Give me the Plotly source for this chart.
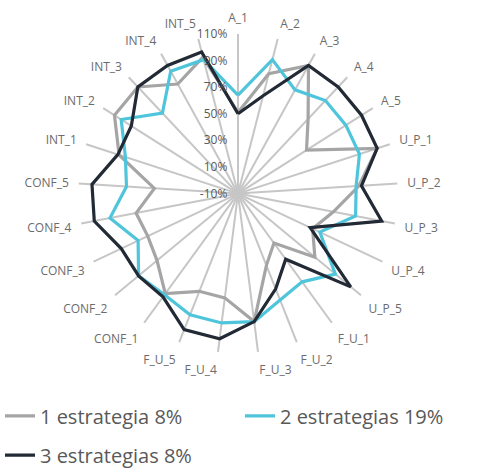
import plotly.graph_objects as go

categories = ["A_1", "A_2", "A_3", "A_4", "A_5",
              "U_P_1", "U_P_2", "U_P_3", "U_P_4", "U_P_5",
              "F_U_1", "F_U_2", "F_U_3", "F_U_4", "F_U_5",
              "CONF_1", "CONF_2", "CONF_3", "CONF_4", "CONF_5",
              "INT_1", "INT_2", "INT_3", "INT_4", "INT_5"]

serie_1 = [51, 83, 100, 67, 51, 100, 81, 63, 52, 65, 36, 48, 87, 69, 69,
           83, 69, 65, 68, 53, 84, 100, 100, 84, 96]
serie_2 = [64, 94, 79, 86, 86, 86, 79, 80, 58, 85, 72, 76, 87, 88, 88,
           84, 87, 73, 88, 74, 79, 94, 73, 95, 94]
serie_3 = [50, 66, 100, 100, 100, 100, 83, 100, 50, 100, 51, 67, 87, 100, 100,
           86, 87, 87, 100, 100, 85, 85, 100, 100, 100]

series_names = ["1 estrategia 8%", "2 estrategias 19%", "3 estrategias 8%"]
series_colors = ["#a5a5a5", "#4fc5db", "#222a35"]
series_legends = ["legend", "legend", "legend2"]

radial_ticks = [-10, 10, 30, 50, 70, 90, 110]

FONT = "Open Sans"

fig = go.Figure()
for name, vals, col, lg in zip(series_names, [serie_1, serie_2, serie_3],
                               series_colors, series_legends):
    fig.add_trace(go.Scatterpolar(
        r=vals + vals[:1],
        theta=categories + categories[:1],
        mode="lines",
        name=name,
        legend=lg,
        line=dict(color=col, width=3.2),
    ))

cx, cy, R = 238, 196.5, 162
W, H = 478, 475
fig.update_layout(
    width=W, height=H,
    margin=dict(l=0, r=0, t=0, b=0),
    paper_bgcolor="white",
    plot_bgcolor="white",
    font=dict(family=FONT, color="#595959"),
    polar=dict(
        domain=dict(x=[(cx - R) / W, (cx + R) / W],
                    y=[(H - cy - R) / H, (H - cy + R) / H]),
        bgcolor="white",
        angularaxis=dict(
            type="category",
            categoryarray=categories,
            direction="clockwise",
            rotation=90,
            showgrid=True,
            gridcolor="#c6c6c6",
            gridwidth=2,
            showline=False,
            ticks="outside",
            ticklen=7,
            tickcolor="rgba(0,0,0,0)",
            tickfont=dict(size=12, color="#6b6b6b", family=FONT),
        ),
        radialaxis=dict(
            range=[-10, 110],
            tickvals=radial_ticks,
            ticktext=[f"{t}%" for t in radial_ticks],
            showgrid=False,
            showline=False,
            ticks="outside",
            ticklen=6,
            tickcolor="rgba(0,0,0,0)",
            angle=90,
            side="counterclockwise",
            tickangle=90,
            tickfont=dict(size=12, color="#595959", family=FONT),
        ),
    ),
    legend=dict(
        orientation="h",
        x=0.0, xanchor="left",
        y=1 - 422 / H, yanchor="middle",
        entrywidth=195,
        font=dict(size=20, color="#595959", family=FONT),
    ),
    legend2=dict(
        orientation="h",
        x=0.0, xanchor="left",
        y=1 - 462 / H, yanchor="middle",
        font=dict(size=20, color="#595959", family=FONT),
    ),
    showlegend=True,
)

fig.write_html("out.html")
